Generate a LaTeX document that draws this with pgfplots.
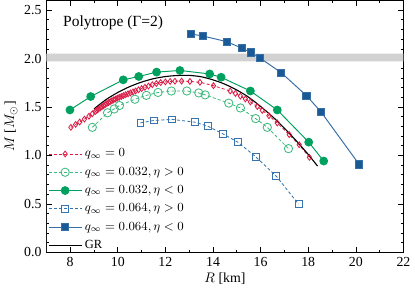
\documentclass[border=0pt]{standalone}
\usepackage{pgfplots}
\pgfplotsset{compat=1.18}
\usepackage{fontspec}
\setmainfont{Liberation Serif}
\definecolor{cred}{RGB}{218,30,70}
\definecolor{cgreen}{RGB}{0,160,95}
\definecolor{cgreenl}{RGB}{60,185,125}
\definecolor{cblue}{RGB}{25,90,150}
\definecolor{cbluel}{RGB}{55,115,175}
\definecolor{cbluef}{RGB}{55,110,165}
\begin{document}
\begin{tikzpicture}
\begin{axis}[
  scale only axis, width=258pt, height=182pt,
  xmin=7, xmax=22, ymin=0, ymax=2.6,
  xtick={8,10,...,22}, minor xtick={7,8,...,22},
  ytick={0,0.5,1,1.5,2,2.5}, yticklabels={0.0,0.5,1.0,1.5,2.0,2.5},
  minor ytick={0,0.1,...,2.6},
  tick align=inside, ticks=both,
  xtick pos=both, ytick pos=both,
  major tick length=4pt, minor tick length=2pt,
  tick style={black, line width=0.5pt},
  /pgf/number format/assume math mode=true,
  xlabel={$R$ [km]}, ylabel={$M$ [$M_\odot$]},
  xlabel style={yshift=2pt}, ylabel style={yshift=-2pt},
  legend style={draw=none, fill=none, at={(0.0,0.428)}, anchor=north west,
    row sep=1.9pt, font=\small, inner sep=1pt},
  legend cell align=left,
  every axis plot/.append style={legend image code/.code={\draw[mark repeat=2,mark phase=2,#1] plot coordinates {(0cm,0cm)(0.42cm,0cm)(0.84cm,0cm)};}},
  axis line style={line width=0.6pt},
]
\addplot[fill=gray!35, draw=none, forget plot] coordinates {(7,1.97)(22,1.97)(22,2.05)(7,2.05)} \closedcycle;

\addplot[cred, dashed, dash pattern=on 2.2pt off 1.6pt, line width=0.6pt, mark=diamond, mark size=2.1pt, mark options={solid, fill=white}] coordinates {
(8.03,1.29)(8.23,1.32)(8.40,1.345)(8.60,1.375)(8.79,1.405)(8.93,1.43)(9.05,1.452)(9.12,1.465)(9.19,1.478)(9.26,1.49)(9.33,1.502)(9.40,1.513)(9.47,1.524)(9.54,1.535)(9.61,1.545)(9.68,1.555)(9.75,1.564)(9.82,1.573)(9.90,1.582)(9.98,1.591)(10.06,1.60)(10.15,1.609)(10.24,1.618)(10.33,1.627)(10.43,1.636)(10.53,1.645)(10.64,1.656)(10.75,1.666)(10.87,1.677)(11.0,1.69)(11.14,1.703)(11.29,1.716)(11.45,1.73)(11.62,1.742)(11.80,1.752)(12.0,1.759)(12.2,1.764)(12.4,1.766)(12.68,1.767)(13.03,1.764)(13.45,1.755)(14.02,1.72)(14.72,1.665)(14.94,1.64)(15.15,1.612)(15.36,1.583)(15.57,1.552)(15.86,1.505)(16.07,1.465)(16.35,1.41)(16.70,1.335)(17.2,1.215)(17.62,1.11)(18.05,0.98)};
\addlegendentry{$q_\infty=0$}

\addplot[cgreenl, dashed, dash pattern=on 2.2pt off 1.6pt, line width=0.6pt, mark=o, mark size=3pt, mark options={solid, fill=white}] coordinates {
(8.93,1.29)(9.57,1.44)(9.85,1.48)(10.07,1.515)(10.72,1.58)(11.2,1.62)(11.69,1.65)(12.25,1.665)(12.9,1.665)(13.4,1.645)(13.67,1.625)(14.66,1.54)(15.15,1.49)(15.79,1.38)(16.28,1.29)(17.17,1.07)};
\addlegendentry{$q_\infty=0.032, \eta>0$}

\addplot[cgreen, line width=0.7pt, mark=*, mark size=2.8pt, mark options={solid, fill=cgreen}] coordinates {
(7.99,1.469)(8.86,1.608)(10.23,1.78)(10.88,1.815)(11.63,1.86)(12.61,1.877)(13.86,1.841)(14.34,1.807)(15.57,1.665)(16.70,1.469)(18.02,1.137)(18.65,0.942)};
\addlegendentry{$q_\infty=0.032, \eta<0$}

\addplot[cbluel, dashed, dash pattern=on 2.2pt off 1.6pt, line width=0.6pt, mark=square, mark size=2.5pt, mark options={solid, fill=white}] coordinates {
(10.95,1.336)(11.52,1.361)(12.28,1.372)(13.24,1.343)(13.78,1.302)(14.40,1.225)(15.04,1.137)(15.79,0.987)(16.66,0.785)(17.59,0.498)};
\addlegendentry{$q_\infty=0.064, \eta>0$}

\addplot[cbluef, line width=0.7pt, mark=square*, mark size=2.6pt, mark options={solid, fill=cblue, draw=cbluef}] coordinates {
(13.06,2.254)(13.57,2.233)(14.58,2.174)(15.23,2.105)(15.59,2.063)(15.97,2.006)(16.87,1.853)(17.93,1.616)(18.54,1.448)(20.14,0.907)};
\addlegendentry{$q_\infty=0.064, \eta<0$}

\addplot[black, line width=0.8pt, smooth] coordinates {
(9.0,1.48)(9.5,1.575)(10.0,1.65)(10.5,1.71)(11.0,1.757)(11.5,1.792)(12.0,1.814)(12.5,1.825)(13.0,1.826)(13.5,1.812)(14.0,1.78)(14.5,1.735)(15.0,1.675)(15.5,1.60)(16.0,1.505)(16.5,1.40)(17.0,1.28)(17.5,1.15)(18.0,1.01)(18.39,0.89)};
\addlegendentry{GR}

\node[anchor=west, font=\fontsize{11.2}{13}\selectfont] at (axis cs:7.5,2.37) {Polytrope (Γ=2)};
\end{axis}
\end{tikzpicture}
\end{document}
